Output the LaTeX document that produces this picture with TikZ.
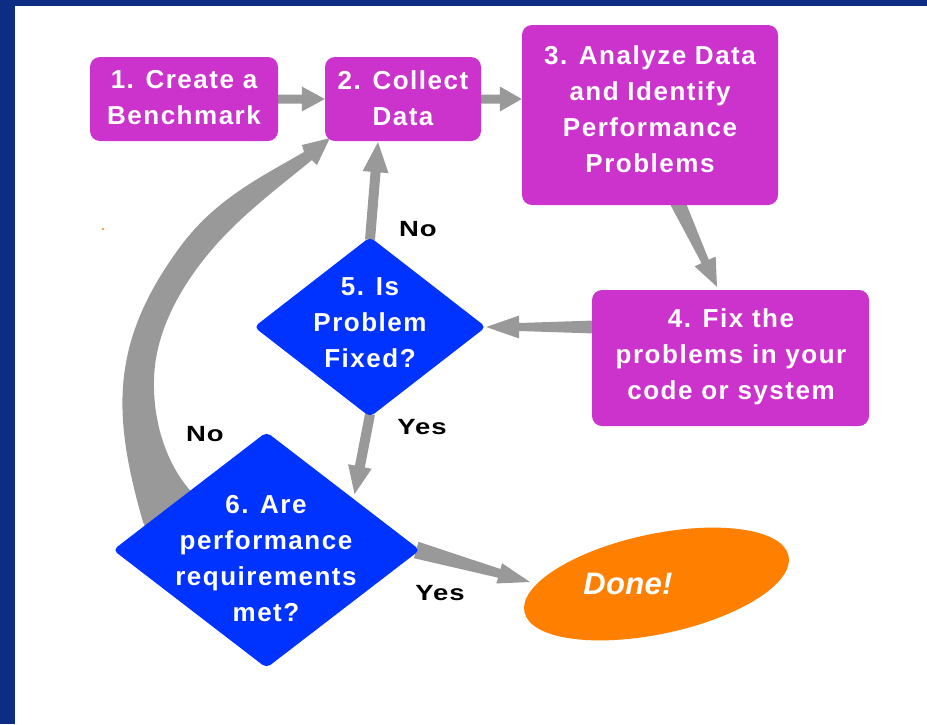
\documentclass[tikz,border=0pt]{standalone}
\usepackage{fontspec}
\usetikzlibrary{shapes.geometric,calc}
\newfontfamily\boxfont[LetterSpace=5.8]{Liberation Sans}
\newfontfamily\lblfont[LetterSpace=4,FakeStretch=1.25]{Liberation Sans}
\newfontfamily\donefont[LetterSpace=1]{Liberation Sans}
\definecolor{bordernavy}{HTML}{0C2D83}
\definecolor{boxmag}{HTML}{CC33CC}
\definecolor{diablue}{HTML}{0033FF}
\definecolor{doneorange}{HTML}{FF8000}
\definecolor{arrowgray}{HTML}{999999}
\pgfdeclarelayer{bg}
\pgfsetlayers{bg,main}
% #1 start, #2 tip, #3 start half-width, #4 shaft half-width at head, #5 head half-width, #6 head length
\newcommand\fatarrow[6]{%
  \coordinate (fah) at ($(#2)!#6!(#1)$);
  \fill[arrowgray] ($(#1)!#3!90:(#2)$) -- ($(fah)!#4!90:(#2)$) -- ($(fah)!#5!90:(#2)$) -- (#2)
    -- ($(fah)!#5!-90:(#2)$) -- ($(fah)!#4!-90:(#2)$) -- ($(#1)!#3!-90:(#2)$) -- cycle;}
\tikzset{
  procbox/.style={fill=boxmag, rounded corners=10pt, inner sep=0pt},
  decision/.style={diamond, fill=diablue, rounded corners=5pt, inner sep=0pt},
  boxtext/.style={text=white, align=center, inner sep=0pt, font=\fontsize{26}{36}\boxfont\bfseries},
  lbl/.style={text=black, inner sep=0pt, font=\fontsize{22}{26}\lblfont\bfseries},
}
\begin{document}
\begin{tikzpicture}[x=1pt,y=-1pt]
\useasboundingbox (0,0) rectangle (927,724);
\begin{pgfonlayer}{bg}
\fill[white] (0,0) rectangle (927,724);
\fill[bordernavy] (0,0) rectangle (15,724);
\fill[bordernavy] (0,0) rectangle (927,6);
\end{pgfonlayer}

% boxes
\node[procbox, minimum width=188pt, minimum height=84pt] (b1) at (184,99) {};
\node[procbox, minimum width=156pt, minimum height=84pt] (b2) at (403,99) {};
\node[procbox, minimum width=256pt, minimum height=180pt] (b3) at (650,115) {};
\node[procbox, minimum width=277pt, minimum height=136pt] (b4) at (730.5,358) {};
\node[decision, minimum width=232pt, minimum height=180pt] (d5) at (370,327) {};
\node[decision, minimum width=307pt, minimum height=236pt] (d6) at (266.5,550) {};
\node[ellipse, fill=doneorange, minimum width=270pt, minimum height=100pt, rotate=12, inner sep=0pt] (done) at (656.5,584) {};

% texts
\node[boxtext] (b1t) at (184,98) {1. Create a\\Benchmark};
\node[boxtext] (b2t) at (403,98) {2. Collect\\Data};
\node[boxtext] (b3t) at (650,109) {3. Analyze Data\\and Identify\\Performance\\Problems};
\node[boxtext] (b4t) at (731,357) {4. Fix the\\problems in your\\code or system};
\node[boxtext] (d5t) at (370,323) {5. Is\\Problem\\Fixed?};
\node[boxtext] (d6t) at (266,559) {6. Are\\performance\\requirements\\met?};
\node[text=white, inner sep=0pt, font=\fontsize{31}{36}\donefont\bfseries\itshape] (donet) at (628,584) {Done!};

% labels
\node[lbl] (no1) at (418,229) {No};
\node[lbl] (no2) at (205,434) {No};
\node[lbl] (yes1) at (422,427) {Yes};
\node[lbl] (yes2) at (440,593) {Yes};

\fill[doneorange] (103,229) circle (1.2pt);

\begin{pgfonlayer}{bg}
\fatarrow{b1.east}{b2.west}{4.5pt}{4.5pt}{12.5pt}{23pt}
\coordinate (a23e) at (b2.east -| b3.west);
\fatarrow{b2.east}{a23e}{4.5pt}{4.5pt}{12.5pt}{22pt}
\coordinate (a34s) at ($(b3.south)+(27.5,-3)$);
\coordinate (a34e) at ($(b4.north)+(-13.5,-3)$);
\fatarrow{a34s}{a34e}{7.5pt}{4pt}{11.6pt}{28pt}
\coordinate (a45s) at ($(b4.west |- d5.east)+(3,0)$);
\fatarrow{a45s}{d5.east}{6.5pt}{4pt}{11.5pt}{33pt}
\coordinate (a52s) at ($(d5.north)+(0,3)$);
\coordinate (a52e) at ($(b2.south)+(-25,1)$);
\fatarrow{a52s}{a52e}{5pt}{5pt}{13pt}{30pt}
\coordinate (a56s) at ($(d5.south)+(0,-3)$);
\coordinate (a56m) at ($(d6.north)!0.56!(d6.east)$);
\coordinate (a56e) at ($(a56m)+(2,-4)$);
\fatarrow{a56s}{a56e}{5pt}{5pt}{12pt}{28pt}
\coordinate (a6ds) at ($(d6.east)+(-4,0)$);
\coordinate (a6de) at ($(done.center)+(-126.5,-2)$);
\fatarrow{a6ds}{a6de}{8.5pt}{4.5pt}{10.5pt}{32pt}
% big curved "No" arrow from 6 back to 2
\coordinate (bigtip) at ($(b2.south west)+(5,-3)$);
\fill[arrowgray] (155,548) -- (143,522)
  .. controls (112.75,416.2) and (108.8,343.6) .. (180,247)
  .. controls (215.6,198.7) and (260.8,177.2) .. (304,152)
  -- (302,145) -- (bigtip) -- (317,165) -- (312,160)
  .. controls (285,182) and (255,205) .. (230,230)
  .. controls (195,265) and (155,320) .. (154,380)
  .. controls (153,420) and (165,460) .. (188,488)
  -- (205,505) -- cycle;
\end{pgfonlayer}
\end{tikzpicture}
\end{document}
